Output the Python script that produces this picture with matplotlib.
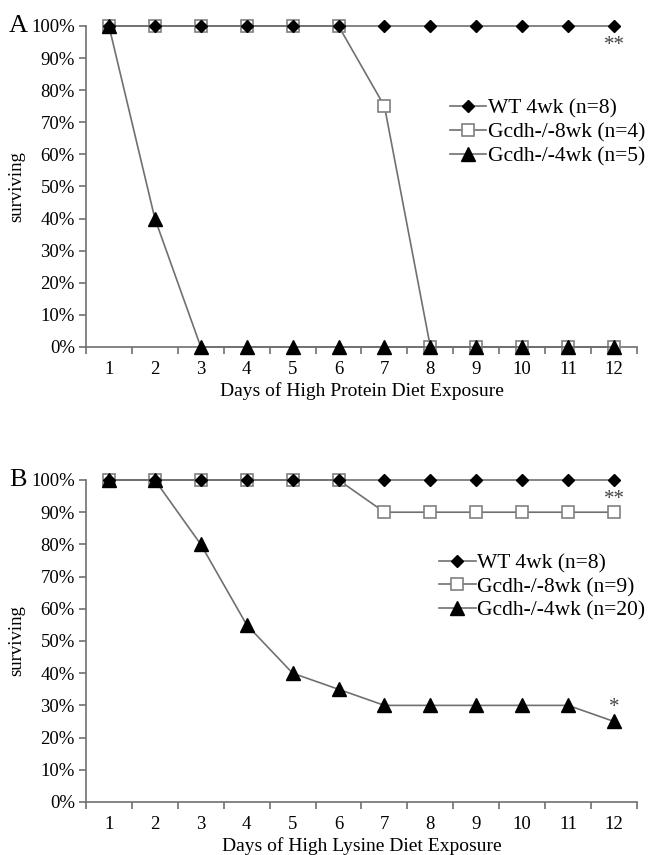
import numpy as np
import matplotlib
matplotlib.use("Agg")
import matplotlib.pyplot as plt
from matplotlib.ticker import FuncFormatter, FixedLocator

plt.rcParams['font.family'] = ['Liberation Serif', 'DejaVu Serif']

days = list(range(1, 13))

# panel A - high protein diet
wt_a = [100] * 12
g8_a = [100, 100, 100, 100, 100, 100, 75, 0, 0, 0, 0, 0]
g4_a = [100, 40, 0, 0, 0, 0, 0, 0, 0, 0, 0, 0]
labels_a = ['WT 4wk (n=8)', 'Gcdh-/-8wk (n=4)', 'Gcdh-/-4wk (n=5)']

# panel B - high lysine diet
wt_b = [100] * 12
g8_b = [100, 100, 100, 100, 100, 100, 90, 90, 90, 90, 90, 90]
g4_b = [100, 100, 80, 55, 40, 35, 30, 30, 30, 30, 30, 25]
labels_b = ['WT 4wk (n=8)', 'Gcdh-/-8wk (n=9)', 'Gcdh-/-4wk (n=20)']

line_col = '#707070'
fs = 13.5


def draw_panel(ax, wt, g8, g4, labels, xlabel, letter, stars, leg_y):
    ax.plot(days, g8, color=line_col, lw=1.2, marker='s', ms=8.5, mfc='white',
            mec='#808080', mew=1.2, clip_on=False, label=labels[1], zorder=3)
    ax.plot(days, g4, color=line_col, lw=1.2, marker='^', ms=9.5, mfc='black',
            mec='black', clip_on=False, label=labels[2], zorder=4)
    ax.plot(days, wt, color=line_col, lw=1.2, marker='D', ms=6.5, mfc='black',
            mec='black', clip_on=False, label=labels[0], zorder=5)
    ax.set_xlim(0.5, 12.5)
    ax.set_ylim(0, 100)
    ax.set_yticks(np.arange(0, 101, 10))
    ax.yaxis.set_major_formatter(FuncFormatter(lambda v, p: '%d%%' % v))
    ax.set_xticks(days)
    ax.xaxis.set_minor_locator(FixedLocator(np.arange(0.5, 13, 1)))
    ax.tick_params(axis='x', which='major', length=0, labelsize=fs, pad=10)
    ax.tick_params(axis='x', which='minor', length=5, direction='out', color=line_col, width=1.2)
    ax.tick_params(axis='y', length=5, direction='out', color=line_col, width=1.2, labelsize=fs, pad=3)
    for s in ['top', 'right']:
        ax.spines[s].set_visible(False)
    for s in ['left', 'bottom']:
        ax.spines[s].set_color(line_col)
        ax.spines[s].set_linewidth(1.2)
    ax.set_xlabel(xlabel, fontsize=14, labelpad=3)
    ax.set_ylabel('surviving', fontsize=fs, labelpad=4)
    h, l = ax.get_legend_handles_labels()
    order = [2, 0, 1]
    ax.legend([h[i] for i in order], [l[i] for i in order], loc='upper right',
              bbox_to_anchor=(1.03, leg_y), frameon=False, fontsize=15.5,
              handlelength=1.7, handletextpad=0.05, labelspacing=0.18,
              borderaxespad=0)
    ax.text(-0.14, 1.0, letter, transform=ax.transAxes, fontsize=19,
            ha='left', va='center')
    for x, y, t in stars:
        ax.text(x, y, t, fontsize=15, color='#444444', ha='center', va='center')


fig = plt.figure(figsize=(6.5, 8.55), dpi=100)
ax1 = fig.add_axes([0.1323, 0.5942, 0.8477, 0.3754])
ax2 = fig.add_axes([0.1323, 0.062, 0.8477, 0.3766])

draw_panel(ax1, wt_a, g8_a, g4_a, labels_a, 'Days of High Protein Diet Exposure', 'A',
           [(12, 94, '**')], 0.80)
draw_panel(ax2, wt_b, g8_b, g4_b, labels_b, 'Days of High Lysine Diet Exposure', 'B',
           [(12, 94, '**'), (12, 29.5, '*')], 0.80)

fig.savefig('out.png', dpi=100)
